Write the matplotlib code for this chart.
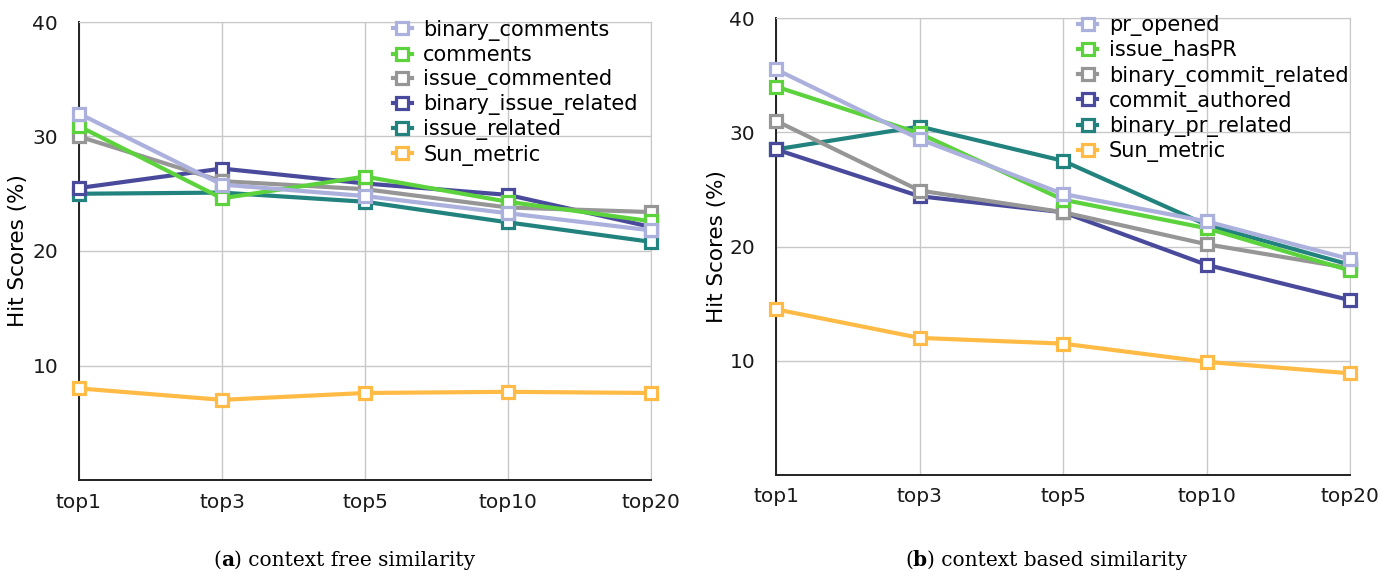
import matplotlib.pyplot as plt

ks = ["top1", "top3", "top5", "top10", "top20"]

# (a) context free similarity
free_names = ["binary_comments", "comments", "issue_commented",
              "binary_issue_related", "issue_related", "Sun_metric"]
binary_comments = [32.0, 25.8, 24.8, 23.3, 21.8]
comments = [30.9, 24.6, 26.5, 24.3, 22.6]
issue_commented = [30.0, 26.1, 25.4, 23.8, 23.4]
binary_issue_related = [25.5, 27.2, 25.9, 24.9, 22.1]
issue_related = [25.0, 25.1, 24.3, 22.5, 20.8]
sun_free = [8.0, 7.0, 7.6, 7.7, 7.6]

# (b) context based similarity
based_names = ["pr_opened", "issue_hasPR", "binary_commit_related",
               "commit_authored", "binary_pr_related", "Sun_metric"]
pr_opened = [35.5, 29.4, 24.6, 22.2, 18.9]
issue_hasPR = [34.0, 29.9, 24.1, 21.6, 17.9]
binary_commit_related = [31.0, 24.9, 23.0, 20.2, 18.1]
commit_authored = [28.5, 24.4, 23.0, 18.4, 15.3]
binary_pr_related = [28.5, 30.5, 27.5, 21.9, 18.4]
sun_based = [14.5, 12.0, 11.5, 9.9, 8.9]

colors = ["#abb1dc", "#5cd23c", "#969696", "#4a4a9c", "#22837e", "#ffbb45"]

plt.rcParams['font.family'] = 'DejaVu Sans'
fig = plt.figure(figsize=(13.97, 5.73), dpi=100)


def draw(ax, names, series, leg_x, leg_y, lab_x):
    x = range(len(ks))
    n = len(names)
    # first series ends up on top
    for i, (name, vals, c) in enumerate(zip(names, series, colors)):
        ax.plot(x, vals, color=c, lw=3, marker='s', ms=8.5, mew=2.3,
                mfc='white', mec=c, label=name, clip_on=False,
                zorder=3 + n - i)
    ax.set_xlim(0, len(ks) - 1)
    ax.set_ylim(0, 40)
    ax.set_yticks([10, 20, 30, 40])
    ax.set_xticks(list(x))
    ax.set_xticklabels(ks)
    ax.tick_params(length=0, labelsize=14.5, colors='#1a1a1a')
    ax.tick_params(axis='x', pad=9)
    ax.tick_params(axis='y', pad=15)
    ax.grid(True, color='#c8c8c8', lw=1)
    ax.set_axisbelow(True)
    for s in ['top', 'right']:
        ax.spines[s].set_color('#c8c8c8')
    for s in ['left', 'bottom']:
        ax.spines[s].set_color('#222222')
        ax.spines[s].set_linewidth(1.4)
    ax.set_ylabel("Hit Scores (%)", fontsize=15.5)
    ax.yaxis.set_label_coords(lab_x, 0.5)
    ax.legend(loc='upper left', bbox_to_anchor=(leg_x, leg_y), frameon=False,
              fontsize=15, handlelength=0.9, handletextpad=0.55,
              labelspacing=0.2, borderpad=0, borderaxespad=0)


ax1 = fig.add_axes([79 / 1397, 93 / 573, 572 / 1397, 458 / 573])
draw(ax1, free_names, [binary_comments, comments, issue_commented,
                       binary_issue_related, issue_related, sun_free],
     0.549, 1.005, -0.089)

ax2 = fig.add_axes([776 / 1397, 98 / 573, 574 / 1397, 457 / 573])
draw(ax2, based_names, [pr_opened, issue_hasPR, binary_commit_related,
                        commit_authored, binary_pr_related, sun_based],
     0.527, 1.006, -0.085)

# captions with a bold letter
fig.canvas.draw()
r = fig.canvas.get_renderer()


def caption(xc, yc, letter, rest):
    kw = dict(fontsize=14.5, family='DejaVu Serif', va='baseline')
    parts = [("(", 'normal'), (letter, 'bold'), (") " + rest, 'normal')]
    widths = []
    for s, w in parts:
        t = fig.text(0, 0, s, weight=w, **kw)
        widths.append(t.get_window_extent(r).width / fig.bbox.width)
        t.remove()
    x = xc - sum(widths) / 2
    for (s, w), wd in zip(parts, widths):
        fig.text(x, yc, s, weight=w, **kw)
        x += wd


caption(344 / 1397, 1 - 566 / 573, "a", "context free similarity")
caption(1046 / 1397, 1 - 566 / 573, "b", "context based similarity")

fig.savefig("out.png", dpi=100)
